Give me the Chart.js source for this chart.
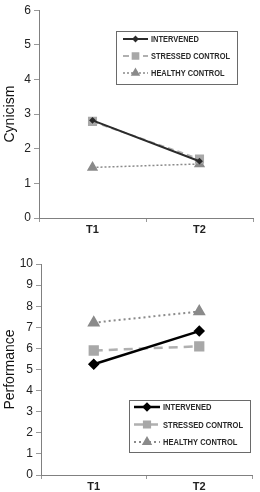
<!DOCTYPE html>
<html>
<head>
<meta charset="utf-8">
<script src="https://cdn.jsdelivr.net/npm/chart.js@4/dist/chart.umd.min.js"></script>
<style>
  html, body { margin: 0; padding: 0; background: #fff; }
  body { width: 260px; height: 492px; overflow: hidden; position: relative; }
  .wrap { position: absolute; left: 0; width: 260px; }
  canvas { display: block; }
</style>
</head>
<body>
<div class="wrap" style="top:0;height:245px"><canvas id="c1" width="260" height="245"></canvas></div>
<div class="wrap" style="top:245px;height:247px"><canvas id="c2" width="260" height="247"></canvas></div>
<script>
// ---- data ----
const categories = ['T1', 'T2'];
const seriesNames = ['INTERVENED', 'STRESSED CONTROL', 'HEALTHY CONTROL'];

const cynicismIntervened = [2.82, 1.64];
const cynicismStressed   = [2.79, 1.70];
const cynicismHealthy    = [1.46, 1.56];

const performanceIntervened = [5.25, 6.82];
const performanceStressed   = [5.90, 6.10];
const performanceHealthy    = [7.22, 7.75];

const cynicismTicks = [0, 6, 1];      // min, max, step
const performanceTicks = [0, 10, 1];  // min, max, step

// ---- legend-in-box plugin ----
const boxLegend = {
  id: 'boxLegend',
  afterDatasetsDraw(chart, args, o) {
    const ctx = chart.ctx;
    ctx.save();
    ctx.fillStyle = '#fff';
    ctx.fillRect(o.left, o.top, o.right - o.left, o.bottom - o.top);
    ctx.strokeStyle = '#6a6a6a';
    ctx.lineWidth = 1;
    ctx.strokeRect(o.left + 0.5, o.top + 0.5, o.right - o.left, o.bottom - o.top);
    ctx.font = o.font;
    const ref = ctx.measureText(seriesNames[1]).width;
    const squeeze = o.refWidth / ref;
    chart.data.datasets.forEach((ds, i) => {
      const y = o.rows[i];
      ctx.save();
      ctx.strokeStyle = ds.borderColor;
      ctx.lineWidth = ds.borderWidth;
      ctx.setLineDash(ds.borderDash || []);
      ctx.beginPath();
      ctx.moveTo(o.lineX0, y);
      ctx.lineTo(o.lineX1, y);
      ctx.stroke();
      ctx.setLineDash([]);
      ctx.fillStyle = ds.pointBackgroundColor;
      ctx.strokeStyle = ds.pointBorderColor;
      Chart.helpers.drawPoint(ctx, {pointStyle: ds.pointStyle, radius: o.radii[i], borderWidth: 1, rotation: 0},
        (o.lineX0 + o.lineX1) / 2, y);
      ctx.restore();
      ctx.fillStyle = '#2a2a2a';
      ctx.font = o.font;
      ctx.textBaseline = 'middle';
      ctx.textAlign = 'left';
      const w = ctx.measureText(ds.label).width * squeeze;
      ctx.fillText(ds.label, o.textX, y + 0.5, w);
    });
    ctx.restore();
  }
};

function makeDatasets(vals, s) {
  return [
    { label: seriesNames[0], data: vals[0], borderColor: s.c0, backgroundColor: s.c0,
      pointBackgroundColor: s.c0, pointBorderColor: s.c0, borderWidth: s.w0,
      pointStyle: 'rectRot', pointRadius: s.r0, order: 0 },
    { label: seriesNames[1], data: vals[1], borderColor: '#b0b0b0', backgroundColor: '#b0b0b0',
      pointBackgroundColor: '#a8a8a8', pointBorderColor: '#a8a8a8', borderWidth: s.w1,
      borderDash: s.d1, pointStyle: 'rect', pointRadius: s.r1, order: 1 },
    { label: seriesNames[2], data: vals[2], borderColor: '#8a8a8a', backgroundColor: '#8a8a8a',
      pointBackgroundColor: '#8a8a8a', pointBorderColor: '#8a8a8a', borderWidth: s.w2,
      borderDash: s.d2, pointStyle: 'triangle', pointRadius: s.r2, order: 2 }
  ];
}

function makeOptions(title, ticks, yWidth, xHeight, padTop, legendOpts) {
  return {
    responsive: false,
    animation: false,
    devicePixelRatio: 1,
    layout: { padding: { top: padTop, right: 2, left: 0, bottom: 0 } },
    plugins: { legend: { display: false }, tooltip: { enabled: false }, boxLegend: legendOpts },
    elements: { line: { tension: 0 }, point: { borderWidth: 1 } },
    scales: {
      x: {
        type: 'category',
        offset: true,
        grid: { offset: true, drawOnChartArea: false, tickLength: 4, color: '#999' },
        border: { color: '#808080', width: 1 },
        ticks: { color: '#222', font: { family: 'Liberation Sans', size: 11, weight: 'bold' }, padding: 1, maxRotation: 0 },
        afterFit(s) { s.height = xHeight; }
      },
      y: {
        min: ticks[0], max: ticks[1],
        grid: { drawOnChartArea: false, tickLength: 5, color: '#999' },
        border: { color: '#808080', width: 1 },
        ticks: { stepSize: ticks[2], color: '#222', font: { family: 'Liberation Sans', size: 12 }, padding: 3 },
        title: { display: true, text: title, color: '#111', font: { family: 'Liberation Sans', size: 14 }, padding: { top: 2, bottom: 0 } },
        afterFit(s) { s.width = yWidth; }
      }
    }
  };
}

new Chart(document.getElementById('c1'), {
  type: 'line',
  plugins: [boxLegend],
  data: {
    labels: categories,
    datasets: makeDatasets([cynicismIntervened, cynicismStressed, cynicismHealthy],
      { c0: '#2b2b2b', w0: 2, r0: 2, w1: 2, d1: [6, 4], r1: 5, w2: 1.5, d2: [2, 2], r2: 5 })
  },
  options: makeOptions('Cynicism', cynicismTicks, 39, 27, 10, {
    left: 116, right: 237, top: 31, bottom: 84,
    rows: [39, 56, 73], lineX0: 123, lineX1: 148, textX: 151, radii: [2, 4, 4], refWidth: 79,
    font: 'bold 9.5px "Liberation Sans"'
  })
});

new Chart(document.getElementById('c2'), {
  type: 'line',
  plugins: [boxLegend],
  data: {
    labels: categories,
    datasets: makeDatasets([performanceIntervened, performanceStressed, performanceHealthy],
      { c0: '#000000', w0: 2.5, r0: 4, w1: 2.5, d1: [9, 6], r1: 5.5, w2: 2, d2: [2, 3], r2: 5.5 })
  },
  options: makeOptions('Performance', performanceTicks, 41, 17, 19, {
    left: 129, right: 250, top: 155, bottom: 207,
    rows: [162, 179.5, 197], lineX0: 134, lineX1: 160, textX: 163, radii: [3, 4, 4], refWidth: 80,
    font: 'bold 9.5px "Liberation Sans"'
  })
});
</script>
</body>
</html>
